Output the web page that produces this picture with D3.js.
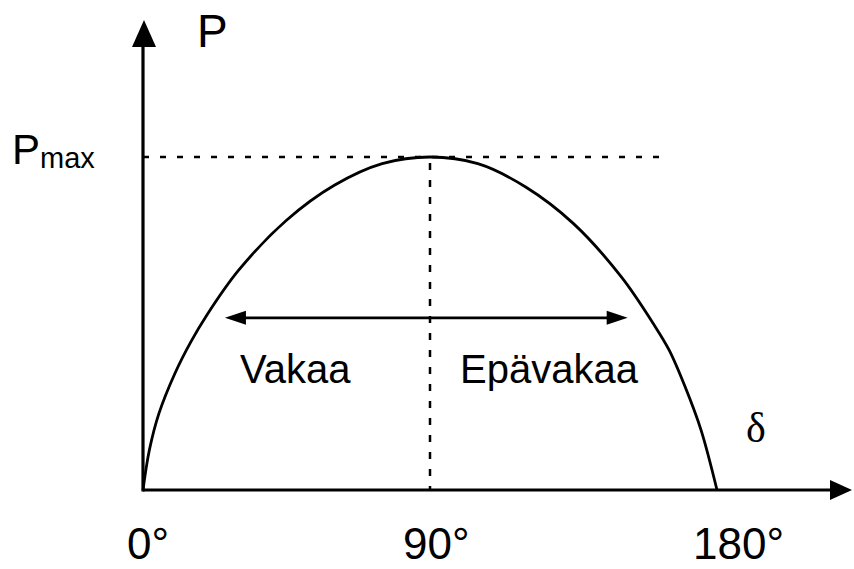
<!DOCTYPE html>
<html><head><meta charset="utf-8">
<script src="https://cdn.jsdelivr.net/npm/d3@7"></script>
<style>html,body{margin:0;padding:0;background:#fff}svg{display:block}</style>
</head><body>
<svg id="c" width="854" height="569"></svg>
<script>
// data: power-angle curve, P as fraction of Pmax
const deltaDeg = [0, 2, 5, 10, 15, 20, 30, 45, 60, 75, 90, 105, 120, 135, 150, 160, 165, 170, 175, 180];
const pFrac    = [0, 0.12, 0.23, 0.35, 0.445, 0.525, 0.66, 0.81, 0.915, 0.98, 1, 0.98, 0.91, 0.80, 0.64, 0.50, 0.42, 0.31, 0.18, 0];
const tickDeg = [0, 90, 180];
const tickLabels = ["0°", "90°", "180°"];
const stableRange = [25.7, 152];
const arrowLevel = 0.517;
const regionLabels = ["Vakaa", "Epävakaa"];

const svg = d3.select("#c");
const x = d3.scaleLinear().domain([0, 180]).range([143, 717]);
const y = d3.scaleLinear().domain([0, 1]).range([490, 157]);
const xEnd = 852, yEnd = 20;

// axes
svg.append("line").attr("x1", x(0)).attr("y1", y(0)).attr("x2", xEnd - 18).attr("y2", y(0))
  .attr("stroke", "#000").attr("stroke-width", 3.2);
svg.append("line").attr("x1", x(0)).attr("y1", y(0) + 1.5).attr("x2", x(0)).attr("y2", yEnd + 22)
  .attr("stroke", "#000").attr("stroke-width", 3.2);
svg.append("path").attr("d", `M${xEnd},${y(0)} L${xEnd-22},${y(0)-10} L${xEnd-22},${y(0)+10} Z`).attr("fill", "#000");
svg.append("path").attr("d", `M${x(0)+1},${yEnd} L${x(0)-11},${yEnd+27} L${x(0)+13},${yEnd+27} Z`).attr("fill", "#000");

// dotted guides
svg.append("line").attr("x1", x(0)).attr("x2", 663).attr("y1", y(1)).attr("y2", y(1))
  .attr("stroke", "#000").attr("stroke-width", 2.5).attr("stroke-dasharray", "6,11");
svg.append("line").attr("x1", x(90)).attr("x2", x(90)).attr("y1", y(1)+6).attr("y2", y(0))
  .attr("stroke", "#000").attr("stroke-width", 2.5).attr("stroke-dasharray", "7,10");

// curve
const pts = deltaDeg.map((d, i) => [d, pFrac[i]]);
svg.append("path").datum(pts)
  .attr("d", d3.line().x(d => x(d[0])).y(d => y(d[1])).curve(d3.curveCatmullRom.alpha(0.5)))
  .attr("fill", "none").attr("stroke", "#000").attr("stroke-width", 2.8);

// double arrow
const ax1 = x(stableRange[0]), ax2 = x(stableRange[1]), ay = y(arrowLevel);
svg.append("line").attr("x1", ax1 + 15).attr("x2", ax2 - 15).attr("y1", ay).attr("y2", ay)
  .attr("stroke", "#000").attr("stroke-width", 2.8);
svg.append("path").attr("d", `M${ax1},${ay} L${ax1+21},${ay-7} L${ax1+21},${ay+7} Z`).attr("fill", "#000");
svg.append("path").attr("d", `M${ax2},${ay} L${ax2-21},${ay-7} L${ax2-21},${ay+7} Z`).attr("fill", "#000");

const sans = "'Liberation Sans', Arial, sans-serif";
// tick labels
const tickOffsets = [-16, -27, -24];
svg.selectAll("text.tick").data(tickDeg).enter().append("text")
  .attr("x", (d, i) => x(d) + tickOffsets[i]).attr("y", 559)
  .attr("font-family", sans).attr("font-size", 44).attr("fill", "#000")
  .text((d, i) => tickLabels[i]);

// axis titles
svg.append("text").attr("x", 197).attr("y", 47).attr("font-family", sans).attr("font-size", 46).text("P");
const pm = svg.append("text").attr("x", 12).attr("y", 164).attr("font-family", sans).attr("font-size", 42);
pm.append("tspan").text("P");
pm.append("tspan").attr("font-size", 29).attr("dy", 4).text("max");
svg.append("text").attr("x", 746).attr("y", 442).attr("font-family", "'Liberation Serif', 'Times New Roman', serif")
  .attr("font-size", 42).text("δ");

// region labels
svg.append("text").attr("x", 240).attr("y", 383).attr("font-family", sans).attr("font-size", 40).text(regionLabels[0]);
svg.append("text").attr("x", 460).attr("y", 383).attr("font-family", sans).attr("font-size", 40).text(regionLabels[1]);
</script>
</body></html>
